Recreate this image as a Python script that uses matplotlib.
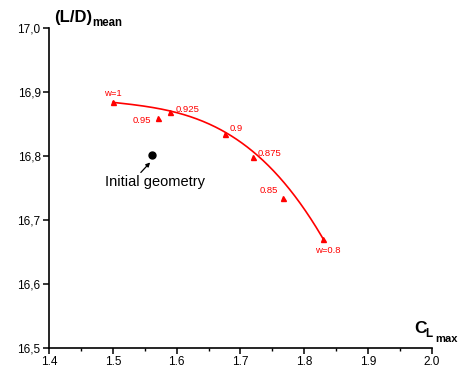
import matplotlib
matplotlib.use('Agg')
import matplotlib.pyplot as plt
import matplotlib.ticker as ticker
import numpy as np

plt.rcParams['font.family'] = ['Liberation Sans', 'DejaVu Sans']

# weight factor w -> (CLmax, (L/D)mean)
w_labels = ["w=1", "0.95", "0.925", "0.9", "0.875", "0.85", "w=0.8"]
cl_max = [1.500, 1.571, 1.590, 1.676, 1.720, 1.767, 1.830]
ld_mean = [16.884, 16.860, 16.869, 16.835, 16.799, 16.735, 16.670]

# trend curve
curve_cl = [1.500, 1.590, 1.676, 1.720, 1.770, 1.830]
curve_ld = [16.884, 16.870, 16.837, 16.808, 16.755, 16.670]

initial_cl = 1.561
initial_ld = 16.801

# label offsets in points (dx, dy, ha)
label_pos = [(0, 6, 'center'), (-5, -2, 'right'), (4, 2, 'left'),
             (3, 4, 'left'), (3, 2, 'left'), (-4, 5, 'right'), (3, -8, 'center')]

fig = plt.figure(figsize=(4.62, 3.69), dpi=100)
ax = fig.add_axes([0.106, 0.057, 0.829, 0.867])

coef = np.polyfit(curve_cl, curve_ld, 3)
xs = np.linspace(curve_cl[0], curve_cl[-1], 200)
ax.plot(xs, np.polyval(coef, xs), color='red', lw=1.2, zorder=2)
ax.plot(cl_max, ld_mean, ls='none', marker='^', ms=3.6, color='red', zorder=3)

for lab, x, y, (dx, dy, ha) in zip(w_labels, cl_max, ld_mean, label_pos):
    ax.annotate(lab, xy=(x, y), xytext=(dx, dy), textcoords='offset points',
                ha=ha, va='center', color='red', fontsize=6.8)

ax.plot([initial_cl], [initial_ld], 'o', color='black', ms=5, zorder=3)
ax.annotate('Initial geometry', xy=(1.5585, 16.790),
            xytext=(1.5665, 16.759), ha='center', va='center', fontsize=10.5,
            arrowprops=dict(arrowstyle='-|>', color='black', lw=0.9,
                            mutation_scale=6, shrinkA=0, shrinkB=0,
                            relpos=(0.33, 1.0)))

ax.set_xlim(1.4, 2.0)
ax.set_ylim(16.5, 17.0)
ax.set_xticks([1.4, 1.5, 1.6, 1.7, 1.8, 1.9, 2.0])
ax.xaxis.set_minor_locator(ticker.MultipleLocator(0.05))
ax.set_yticks([16.5, 16.6, 16.7, 16.8, 16.9, 17.0])
ax.yaxis.set_major_formatter(ticker.FuncFormatter(lambda v, p: ('%.1f' % v).replace('.', ',')))
ax.tick_params(axis='both', which='major', direction='out', length=4, width=1.1,
               labelsize=8.5, pad=2)
ax.tick_params(axis='x', which='minor', direction='out', length=2.5, width=1.0)

for s in ['top', 'right']:
    ax.spines[s].set_visible(False)
for s in ['left', 'bottom']:
    ax.spines[s].set_linewidth(1.2)

fig.text(0.117, 0.952, '(L/D)', fontsize=12, fontweight='bold', ha='left', va='center')
fig.text(0.200, 0.938, 'mean', fontsize=8.3, fontweight='bold', ha='left', va='center')
fig.text(0.896, 0.109, 'C', fontsize=12.5, fontweight='bold', ha='left', va='center')
fig.text(0.921, 0.095, 'L', fontsize=8.5, fontweight='bold', ha='left', va='center')
fig.text(0.943, 0.080, 'max', fontsize=8, fontweight='bold', ha='left', va='center')

fig.savefig('out.png', dpi=100)
